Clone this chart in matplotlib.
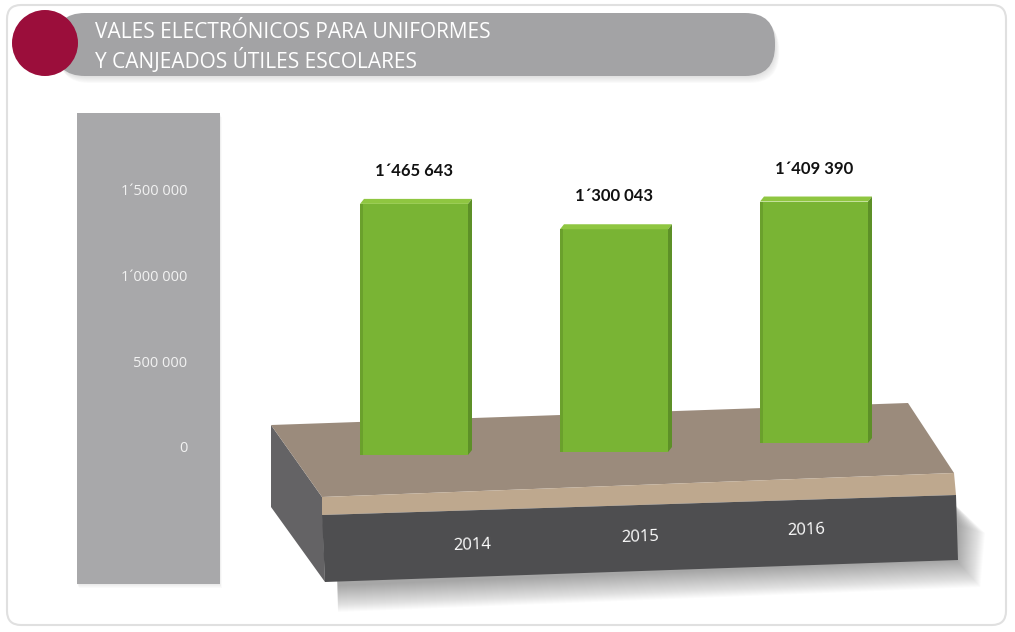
import matplotlib.pyplot as plt
from matplotlib.patches import Polygon, FancyBboxPatch, Circle, Rectangle

# Datos
anios = ['2014', '2015', '2016']
vales = [1465643, 1300043, 1409390]
ticks_y = [0, 500000, 1000000, 1500000]
titulo = ['VALES ELECTRÓNICOS PARA UNIFORMES', 'Y CANJEADOS ÚTILES ESCOLARES']

fuente = ['Open Sans', 'DejaVu Sans']
plt.rcParams['font.family'] = fuente


def fmt(v):
    # 1465643 -> 1´465 643
    partes = f"{int(v):,}".split(',')
    if len(partes) == 3:
        return partes[0] + '´' + partes[1] + ' ' + partes[2]
    return ' '.join(partes)


W, H = 1015, 632
fig = plt.figure(figsize=(W / 100, H / 100), dpi=100)

# Fondo (coordenadas en pixeles)
bg = fig.add_axes([0, 0, 1, 1])
bg.set_xlim(0, W)
bg.set_ylim(H, 0)
bg.axis('off')

# marco exterior
bg.add_patch(FancyBboxPatch((7, 5), 999, 620, boxstyle='round,pad=0,rounding_size=14',
                            fc='white', ec='#e0e0e0', lw=1.5, zorder=0))

# banda del titulo
for d in range(1, 8):
    bg.add_patch(FancyBboxPatch((55 + d * 0.6, 13 + d), 720, 63, boxstyle='round,pad=0,rounding_size=30',
                                fc='#888888', ec='none', alpha=0.035, zorder=1))
bg.add_patch(FancyBboxPatch((55, 13), 720, 63, boxstyle='round,pad=0,rounding_size=30',
                            fc='#a3a3a5', ec='none', zorder=2))
bg.add_patch(Circle((45, 43), 33, fc='#9b0e3b', ec='none', zorder=3))
bg.text(95, 33, titulo[0], color='white', fontsize=15, va='center', ha='left', zorder=4)
bg.text(95, 60, titulo[1], color='white', fontsize=15, va='center', ha='left', zorder=4)

# panel gris del eje
for d in range(1, 5):
    bg.add_patch(Rectangle((77 + d * 0.5, 113 + d), 143, 471, fc='#888888', ec='none', alpha=0.04, zorder=1))
bg.add_patch(Rectangle((77, 113), 143, 471, fc='#a8a8aa', ec='none', zorder=2))

# sombra difusa de la base
for d in range(1, 28):
    bg.add_patch(Polygon([(335, 530), (950, 500), (958 + d, 525 + d * 0.3), (956 + d * 0.9, 560 + d),
                          (338, 585 + d)], closed=True, fc='#222222', ec='none',
                         alpha=0.014, zorder=1))

# base en perspectiva
bg.add_patch(Polygon([(271, 425), (322, 497), (325, 582), (271, 507)], fc='#646365', ec='none', zorder=2))
bg.add_patch(Polygon([(271, 425), (908, 403), (954, 473), (322, 497)], fc='#9b8b7c', ec='none', zorder=2))
bg.add_patch(Polygon([(322, 497), (954, 473), (956, 495), (322, 515)], fc='#bea88e', ec='none', zorder=2))
bg.add_patch(Polygon([(322, 515), (956, 495), (958, 560), (325, 582)], fc='#4e4e50', ec='none', zorder=2))

# etiquetas de años sobre el frente de la base
pos_anios = [(472, 545), (640, 537), (806, 530)]
for (px, py), a in zip(pos_anios, anios):
    bg.text(px, py, a, color='white', fontsize=12, ha='center', va='center', rotation=2, zorder=5)

# Ejes de barras
izq, der, arr, aba = 190, 1000, 120, 600
y0_px, y1_px = 447, 190
k = (y0_px - y1_px) / ticks_y[-1]          # pixeles por unidad
x0_px, paso = 414, 200
ax = fig.add_axes([izq / W, 1 - aba / H, (der - izq) / W, (aba - arr) / H])
ax.set_ylim(-(aba - y0_px) / k, (y0_px - arr) / k)
ax.set_xlim(-(x0_px - izq) / paso, (der - x0_px) / paso)
ax.patch.set_alpha(0)
for s in ax.spines.values():
    s.set_visible(False)
ax.set_xticks([])
ax.set_yticks(ticks_y)
ax.set_yticklabels([fmt(t) for t in ticks_y])
ax.tick_params(axis='y', length=0, pad=2, labelcolor='#f2f2f2', labelsize=10.5)

# perspectiva: la base de cada barra sube hacia la derecha
pie_px = [455, 452, 443]
fondos = [(y0_px - p) / k for p in pie_px]
xs = list(range(len(anios)))
ancho = 108 / paso
barras = ax.bar(xs, vales, width=ancho, bottom=fondos, color='#79b434', zorder=3)

dx, dy = 4 / paso, 5 / k
for b, v in zip(barras, vales):
    x, y, w, h = b.get_x(), b.get_y(), b.get_width(), b.get_height()
    ax.add_patch(Polygon([(x, y + h), (x + w, y + h), (x + w + dx, y + h + dy), (x + dx, y + h + dy)],
                         fc='#8fc641', ec='none', zorder=3))
    ax.add_patch(Polygon([(x + w, y), (x + w + dx, y + dy), (x + w + dx, y + h + dy), (x + w, y + h)],
                         fc='#5d9027', ec='none', zorder=3))
    ax.add_patch(Rectangle((x, y), 2.5 / paso, h, fc='#6aa02c', ec='none', zorder=3))
    ax.annotate(fmt(v), xy=(x + w / 2, y + h), xytext=(0, 18), textcoords='offset points',
                ha='center', va='bottom', fontsize=12, fontweight='bold',
                family=['Lato', 'DejaVu Sans'], color='#111111', zorder=5)

fig.savefig('out.png', dpi=100)
